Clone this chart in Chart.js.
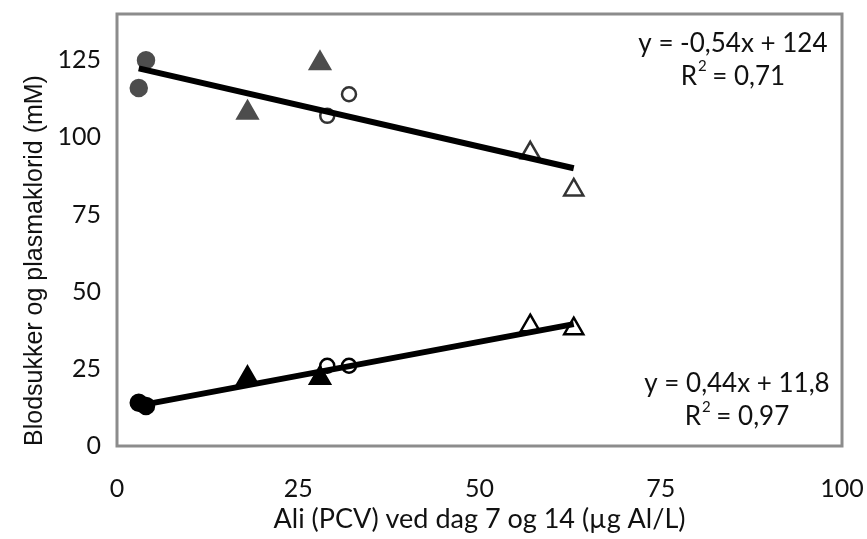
<!DOCTYPE html>
<html>
<head>
<meta charset="utf-8">
<script src="https://cdn.jsdelivr.net/npm/chart.js@4.4.1/dist/chart.umd.min.js"></script>
<style>
  html, body { margin: 0; padding: 0; background: #fff; }
  #wrap { width: 867px; height: 539px; position: relative; }
</style>
</head>
<body>
<div id="wrap"><canvas id="chart"></canvas></div>
<script>
// Upper group (plasmaklorid)
const topGreyCircles = [{ x: 3, y: 116 }, { x: 4, y: 125 }];
const topGreyTriangles = [{ x: 18, y: 108 }, { x: 28, y: 124 }];
const topOpenCircles = [{ x: 29, y: 107 }, { x: 32, y: 114 }];
const topOpenTriangles = [{ x: 57, y: 95 }, { x: 63, y: 83 }];
const topTrend = [{ x: 3, y: 122.4 }, { x: 63, y: 90 }];

// Lower group (blodsukker)
const lowBlackCircles = [{ x: 3, y: 14 }, { x: 4, y: 13 }];
const lowBlackTriangles = [{ x: 18, y: 22 }, { x: 28, y: 22 }];
const lowOpenCircles = [{ x: 29, y: 26 }, { x: 32, y: 26 }];
const lowOpenTriangles = [{ x: 57, y: 39 }, { x: 63, y: 38 }];
const lowTrend = [{ x: 3, y: 13.1 }, { x: 63, y: 39.5 }];

const xTicks = [0, 25, 50, 75, 100];
const yTicks = [0, 25, 50, 75, 100, 125];

const equations = [
    { x: 98, y: 130.4, text: 'y = -0,54x + 124', r2: '0,71' },
    { x: 98.3, y: 20.2, text: 'y = 0,44x + 11,8', r2: '0,97' }
];

const GREY = '#4d4d4d';
const OPEN_EDGE = '#333333';
const TICK_FONT = { family: 'Lato', size: 25 };

function markerSet(data, style, fill, edge, radius) {
    return {
        type: 'scatter',
        data: data,
        pointStyle: style,
        pointRadius: radius,
        pointHoverRadius: radius,
        backgroundColor: fill,
        borderColor: edge,
        pointBorderWidth: 2.5,
        order: 2
    };
}

function trendSet(data) {
    return {
        type: 'line',
        data: data,
        borderColor: '#000',
        borderWidth: 6,
        pointRadius: 0,
        fill: false,
        order: 1
    };
}

// frame around the plot area plus the regression labels
const framePlugin = {
    id: 'frame',
    afterDraw(chart) {
        const { ctx, chartArea: a, scales } = chart;
        ctx.save();
        ctx.strokeStyle = '#8c8c8c';
        ctx.lineWidth = 3;
        ctx.strokeRect(a.left, a.top, a.right - a.left, a.bottom - a.top);

        ctx.fillStyle = '#111';
        ctx.textBaseline = 'middle';
        equations.forEach(eq => {
            const px = scales.x.getPixelForValue(eq.x);
            const py = scales.y.getPixelForValue(eq.y);
            ctx.font = '26px Lato';
            ctx.textAlign = 'right';
            ctx.fillText(eq.text, px, py);
            const r2y = py + 33;
            const cx = px - ctx.measureText(eq.text).width / 2;
            const main = 'R';
            const rest = ' = ' + eq.r2;
            const wMain = ctx.measureText(main).width;
            ctx.font = '15px Lato';
            const wSup = ctx.measureText('2').width;
            ctx.font = '26px Lato';
            const wRest = ctx.measureText(rest).width;
            let sx = cx - (wMain + wSup + wRest) / 2;
            ctx.textAlign = 'left';
            ctx.fillText(main, sx, r2y);
            ctx.font = '15px Lato';
            ctx.fillText('2', sx + wMain + 1, r2y - 10);
            ctx.font = '26px Lato';
            ctx.fillText(rest, sx + wMain + wSup, r2y);
        });
        ctx.restore();
    }
};

new Chart(document.getElementById('chart'), {
    data: {
        datasets: [
            trendSet(topTrend),
            trendSet(lowTrend),
            markerSet(topGreyCircles, 'circle', GREY, GREY, 8),
            markerSet(topGreyTriangles, 'triangle', GREY, GREY, 11.5),
            markerSet(topOpenCircles, 'circle', '#fff', OPEN_EDGE, 7),
            markerSet(topOpenTriangles, 'triangle', '#fff', OPEN_EDGE, 11),
            markerSet(lowBlackCircles, 'circle', '#000', '#000', 8),
            markerSet(lowBlackTriangles, 'triangle', '#000', '#000', 11.5),
            markerSet(lowOpenCircles, 'circle', '#fff', '#000', 7),
            markerSet(lowOpenTriangles, 'triangle', '#fff', '#000', 11)
        ]
    },
    options: {
        responsive: true,
        maintainAspectRatio: false,
        animation: false,
        layout: { padding: 0 },
        plugins: {
            legend: { display: false },
            tooltip: { enabled: false }
        },
        scales: {
            x: {
                type: 'linear',
                min: 0,
                max: 100,
                afterBuildTicks: axis => { axis.ticks = xTicks.map(v => ({ value: v })); },
                afterFit: axis => { axis.height = 93; axis.paddingRight = 25; axis.paddingLeft = 0; },
                grid: { display: false, drawTicks: false },
                border: { display: false },
                ticks: { color: '#111', font: TICK_FONT, padding: 28 },
                title: {
                    display: true,
                    text: 'Ali (PCV) ved dag 7 og 14 (\u00b5g Al/L)',
                    color: '#111',
                    font: { family: 'Lato', size: 27 },
                    padding: { top: 4 }
                }
            },
            y: {
                type: 'linear',
                min: 0,
                max: 140,
                afterBuildTicks: axis => { axis.ticks = yTicks.map(v => ({ value: v })); },
                afterFit: axis => { axis.width = 117; axis.paddingTop = 10; axis.paddingBottom = 0; },
                grid: { display: false, drawTicks: false },
                border: { display: false },
                ticks: { color: '#111', font: TICK_FONT, padding: 16 },
                title: {
                    display: true,
                    align: 'start',
                    text: 'Blodsukker og plasmaklorid (mM)',
                    color: '#111',
                    font: { family: 'Liberation Sans', size: 25 },
                    padding: { top: 20, bottom: 2 }
                }
            }
        }
    },
    plugins: [framePlugin]
});
</script>
</body>
</html>
